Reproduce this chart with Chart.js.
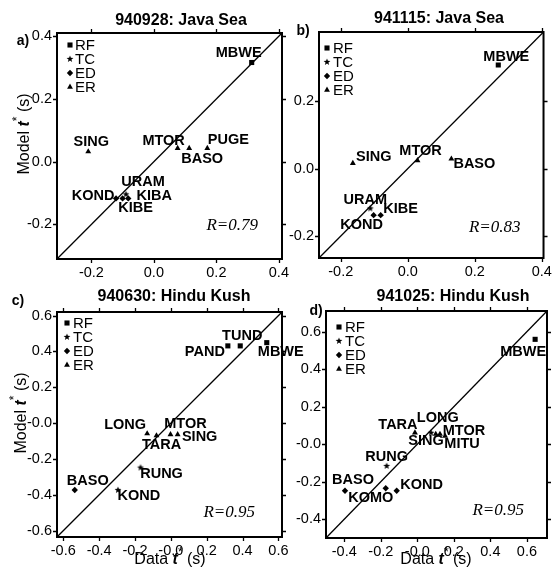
<!DOCTYPE html>
<html>
<head>
<meta charset="utf-8">
<script src="https://cdn.jsdelivr.net/npm/chart.js@4.4.1/dist/chart.umd.min.js"></script>
<style>
  html, body { margin: 0; padding: 0; background: #fff; }
  #wrap { position: relative; width: 557px; height: 570px; }
  #wrap canvas { position: absolute; left: 0; top: 0; }
</style>
</head>
<body>
<div id="wrap">
  <canvas id="chart-a" width="557" height="570"></canvas>
  <canvas id="chart-b" width="557" height="570"></canvas>
  <canvas id="chart-c" width="557" height="570"></canvas>
  <canvas id="chart-d" width="557" height="570"></canvas>
</div>
<script>
/* ── data ─────────────────────────────────────── */
const legendNames = ['RF', 'TC', 'ED', 'ER'];

// a) 940928: Java Sea
const aStations = ['MBWE', 'SING', 'MTOR', 'BASO', 'PUGE', 'KOND', 'KIBE', 'KIBA', 'URAM'];
const aTypes    = ['RF', 'ER', 'ER', 'ER', 'ER', 'ED', 'ED', 'ED', 'TC'];
const aDataT    = [0.313, -0.210, 0.076, 0.113, 0.171, -0.121, -0.100, -0.082, -0.089];
const aModelT   = [0.316, 0.032, 0.043, 0.043, 0.043, -0.117, -0.117, -0.117, -0.104];
const aXTicks   = [-0.2, 0.0, 0.2, 0.4];
const aXText    = ['-0.2', '0.0', '0.2', '0.4'];
const aYTicks   = [-0.2, 0.0, 0.2, 0.4];
const aYText    = ['-0.2', '0.0', '0.2', '0.4'];
const aRange    = [-0.31, 0.41];

// b) 941115: Java Sea
const bStations = ['MBWE', 'SING', 'MTOR', 'BASO', 'URAM', 'KOND', 'KIBE'];
const bTypes    = ['RF', 'ER', 'ER', 'ER', 'TC', 'ED', 'ED'];
const bDataT    = [0.270, -0.164, 0.029, 0.130, -0.112, -0.102, -0.081];
const bModelT   = [0.307, 0.016, 0.024, 0.029, -0.118, -0.138, -0.138];
const bXTicks   = [-0.2, 0.0, 0.2, 0.4];
const bXText    = ['-0.2', '0.0', '0.2', '0.4'];
const bYTicks   = [-0.2, 0.0, 0.2];
const bYText    = ['-0.2', '0.0', '0.2'];
const bRange    = [-0.265, 0.405];

// c) 940630: Hindu Kush
const cStations = ['PAND', 'TUND', 'MBWE', 'LONG', 'TARA', 'MTOR', 'SING', 'RUNG', 'KOND', 'BASO'];
const cTypes    = ['RF', 'RF', 'RF', 'ER', 'ER', 'ER', 'ER', 'TC', 'TC', 'ED'];
const cDataT    = [0.318, 0.387, 0.535, -0.132, -0.080, -0.002, 0.038, -0.169, -0.295, -0.536];
const cModelT   = [0.431, 0.431, 0.449, -0.058, -0.069, -0.063, -0.063, -0.248, -0.373, -0.373];
const cXTicks   = [-0.6, -0.4, -0.2, 0.0, 0.2, 0.4, 0.6];
const cXText    = ['-0.6', '-0.4', '-0.2', '-0.0', '0.2', '0.4', '0.6'];
const cYTicks   = [-0.6, -0.4, -0.2, 0.0, 0.2, 0.4, 0.6];
const cYText    = ['-0.6', '-0.4', '-0.2', '-0.0', '0.2', '0.4', '0.6'];
const cRange    = [-0.635, 0.62];

// d) 941025: Hindu Kush
const dStations = ['MBWE', 'TARA', 'LONG', 'SING', 'MTOR', 'MITU', 'RUNG', 'BASO', 'KOMO', 'KOND'];
const dTypes    = ['RF', 'ER', 'ER', 'TC', 'ER', 'ER', 'TC', 'ED', 'ED', 'ED'];
const dDataT    = [0.645, -0.013, 0.101, 0.075, 0.124, 0.152, -0.168, -0.396, -0.173, -0.113];
const dModelT   = [0.559, 0.061, 0.054, 0.061, 0.054, 0.044, -0.116, -0.248, -0.235, -0.248];
const dXTicks   = [-0.4, -0.2, 0.0, 0.2, 0.4, 0.6];
const dXText    = ['-0.4', '-0.2', '-0.0', '0.2', '0.4', '0.6'];
const dYTicks   = [-0.4, -0.2, 0.0, 0.2, 0.4, 0.6];
const dYText    = ['-0.4', '-0.2', '-0.0', '0.2', '0.4', '0.6'];
const dRange    = [-0.5, 0.71];

/* ── layout (page pixels) ─────────────────────── */
const W = 557, H = 570;
const SANS = "'Liberation Sans', Arial, Helvetica, sans-serif";
const SERIF = "'Liberation Serif', 'Times New Roman', serif";

const panels = [
  {
    canvas: 'chart-a', tag: 'a)', title: '940928: Java Sea', r: 'R=0.79',
    stations: aStations, types: aTypes, xs: aDataT, ys: aModelT, range: aRange,
    xTicks: aXTicks, xText: aXText, yTicks: aYTicks, yText: aYText,
    frame: [57, 33, 282, 259], tagAt: [23, 41], titleAt: [181, 21],
    legendAt: [13, 12, 18], rAt: [24, 33], yTitleAt: [25, 134], xTitleAt: null,
    labelDx: [-13, 3, -14, 13, 21, -23, 13, 26, 17],
    labelDy: [-10, -10, -7, 11, -8, -2, 10, -2, -12],
  },
  {
    canvas: 'chart-b', tag: 'b)', title: '941115: Java Sea', r: 'R=0.83',
    stations: bStations, types: bTypes, xs: bDataT, ys: bModelT, range: bRange,
    xTicks: bXTicks, xText: bXText, yTicks: bYTicks, yText: bYText,
    frame: [319, 32, 547, 258], tagAt: [303, 31], titleAt: [439, 19],
    legendAt: [8, 16, 14], rAt: [23, 30], yTitleAt: null, xTitleAt: null,
    labelDx: [8, 21, 3, 23, -5, -12, 20],
    labelDy: [-8, -6, -10, 5, -8, 10, -6],
  },
  {
    canvas: 'chart-c', tag: 'c)', title: '940630: Hindu Kush', r: 'R=0.95',
    stations: cStations, types: cTypes, xs: cDataT, ys: cModelT, range: cRange,
    xTicks: cXTicks, xText: cXText, yTicks: cYTicks, yText: cYText,
    frame: [57, 312, 282, 537], tagAt: [18, 301], titleAt: [174, 297],
    legendAt: [10, 11, 16], rAt: [27, 24], yTitleAt: [22, 413], xTitleAt: [170, 560],
    labelDx: [-23, 2, 14, -22, 5, 15, 22, 21, 21, 13],
    labelDy: [6, -10, 9, -9, 9, -10, 3, 6, 6, -9],
  },
  {
    canvas: 'chart-d', tag: 'd)', title: '941025: Hindu Kush', r: 'R=0.95',
    stations: dStations, types: dTypes, xs: dDataT, ys: dModelT, range: dRange,
    xTicks: dXTicks, xText: dXText, yTicks: dYTicks, yText: dYText,
    frame: [326, 311, 547, 538], tagAt: [316, 311], titleAt: [453, 297],
    legendAt: [13, 16, 19], rAt: [23, 27], yTitleAt: null, xTitleAt: [436, 560],
    labelDx: [-12, -17, 2, -5, 24, 17, 0, 8, -15, 25],
    labelDy: [13, -8, -16, 8, -3, 8, -9, -11, 10, -6],
  },
];

/* ── markers ──────────────────────────────────── */
function makeStar(r) {
  const c = document.createElement('canvas');
  c.width = c.height = Math.ceil(r * 2) + 2;
  const g = c.getContext('2d');
  const cx = c.width / 2;
  g.beginPath();
  for (let i = 0; i < 10; i++) {
    const rr = i % 2 ? r * 0.42 : r;
    const a = -Math.PI / 2 + i * Math.PI / 5;
    g.lineTo(cx + rr * Math.cos(a), cx + rr * Math.sin(a));
  }
  g.closePath();
  g.fillStyle = '#000';
  g.fill();
  return c;
}
const starImg = makeStar(3.6);
const markerStyle = { RF: 'rect', TC: starImg, ED: 'rectRot', ER: 'triangle' };
const markerRadius = { RF: 3.6, TC: 3.6, ED: 3.2, ER: 3.4 };

/* ── text helpers ─────────────────────────────── */
function drawRich(ctx, parts, cx, cy, rotate) {
  ctx.save();
  ctx.translate(cx, cy);
  if (rotate) ctx.rotate(-Math.PI / 2);
  ctx.textBaseline = 'middle';
  ctx.textAlign = 'left';
  let total = 0;
  parts.forEach(p => { ctx.font = p.font; total += ctx.measureText(p.text).width + (p.dx || 0); });
  let x = -total / 2;
  parts.forEach(p => {
    ctx.font = p.font;
    x += p.dx || 0;
    ctx.fillText(p.text, x, p.dy || 0);
    x += ctx.measureText(p.text).width;
  });
  ctx.restore();
}

function axisTitle(word) {
  return [
    { text: word + ' ', font: `16px ${SANS}` },
    { text: 't', font: `italic bold 16px ${SANS}` },
    { text: '*', font: `12px ${SANS}`, dy: -7, dx: 0 },
    { text: ' (s)', font: `16px ${SANS}` },
  ];
}

/* ── decoration plugin ────────────────────────── */
const decor = {
  id: 'decor',
  afterDatasetsDraw(chart) {
    const p = chart.options.plugins.decor.panel;
    const ctx = chart.ctx;
    const meta = chart.getDatasetMeta(0);
    ctx.save();
    ctx.fillStyle = '#000';
    ctx.font = `bold 14.5px ${SANS}`;
    ctx.textAlign = 'center';
    ctx.textBaseline = 'middle';
    meta.data.forEach((pt, i) => {
      ctx.fillText(p.stations[i], pt.x + p.labelDx[i], pt.y + p.labelDy[i]);
    });
    ctx.restore();
  },
  afterDraw(chart) {
    const p = chart.options.plugins.decor.panel;
    const ctx = chart.ctx;
    const { left, top, right, bottom } = chart.chartArea;
    const xs = chart.scales.x, ys = chart.scales.y;
    ctx.save();
    ctx.strokeStyle = '#000';
    ctx.fillStyle = '#000';

    // ticks on all four sides, pointing out
    ctx.lineWidth = 1.3;
    ctx.beginPath();
    p.xTicks.forEach(v => {
      const px = Math.round(xs.getPixelForValue(v)) + 0.5;
      ctx.moveTo(px, bottom); ctx.lineTo(px, bottom + 4);
      ctx.moveTo(px, top); ctx.lineTo(px, top - 4);
    });
    p.yTicks.forEach(v => {
      const py = Math.round(ys.getPixelForValue(v)) + 0.5;
      ctx.moveTo(left, py); ctx.lineTo(left - 4, py);
      ctx.moveTo(right, py); ctx.lineTo(right + 4, py);
    });
    ctx.stroke();

    // frame
    ctx.lineWidth = 2;
    ctx.strokeRect(left, top, right - left, bottom - top);

    // legend
    const [lx, ly, tx] = p.legendAt;
    ctx.font = `15px ${SANS}`;
    ctx.textAlign = 'left';
    ctx.textBaseline = 'middle';
    legendNames.forEach((name, i) => {
      const y = top + ly + i * 14;
      Chart.helpers.drawPoint(ctx, {
        pointStyle: markerStyle[name], radius: markerRadius[name], rotation: 0, borderWidth: 0,
      }, left + lx, y);
      ctx.fillText(name, left + tx, y + 1);
    });

    // R value
    ctx.font = `italic 17px ${SERIF}`;
    ctx.textAlign = 'right';
    ctx.fillText(p.r, right - p.rAt[0], bottom - p.rAt[1]);

    // title and panel tag
    ctx.textAlign = 'center';
    ctx.font = `bold 16px ${SANS}`;
    ctx.fillText(p.title, p.titleAt[0], p.titleAt[1]);
    ctx.font = `bold 14px ${SANS}`;
    ctx.fillText(p.tag, p.tagAt[0], p.tagAt[1]);

    if (p.yTitleAt) drawRich(ctx, axisTitle('Model'), p.yTitleAt[0], p.yTitleAt[1], true);
    if (p.xTitleAt) drawRich(ctx, axisTitle('Data'), p.xTitleAt[0], p.xTitleAt[1], false);
    ctx.restore();
  }
};

/* ── charts ───────────────────────────────────── */
function buildChart(p) {
  const [fl, ft, fr, fb] = p.frame;
  const yW = 40, xH = 26;
  const tickFont = { family: SANS, size: 14.5 };
  const axis = (isX) => {
    const vals = isX ? p.xTicks : p.yTicks;
    const text = isX ? p.xText : p.yText;
    return {
      type: 'linear',
      min: p.range[0],
      max: p.range[1],
      grid: { display: false, drawTicks: false, tickLength: 0 },
      border: { display: false },
      afterFit: s => { if (isX) s.height = xH; else s.width = yW; },
      afterBuildTicks: s => { s.ticks = vals.map(v => ({ value: v })); },
      ticks: {
        color: '#000',
        font: tickFont,
        padding: isX ? 5 : 5,
        autoSkip: false,
        maxRotation: 0,
        callback: (v, i) => text[i],
      },
    };
  };

  return new Chart(document.getElementById(p.canvas), {
    type: 'scatter',
    data: {
      datasets: [
        {
          data: p.xs.map((v, i) => ({ x: v, y: p.ys[i] })),
          pointStyle: p.types.map(t => markerStyle[t]),
          pointRadius: p.types.map(t => markerRadius[t]),
          backgroundColor: '#000',
          borderColor: '#000',
          borderWidth: 0,
        },
        {
          type: 'line',
          data: [{ x: p.range[0], y: p.range[0] }, { x: p.range[1], y: p.range[1] }],
          borderColor: '#000',
          borderWidth: 1.3,
          pointRadius: 0,
          fill: false,
        },
      ],
    },
    options: {
      responsive: false,
      animation: false,
      events: [],
      layout: {
        autoPadding: false,
        padding: { left: fl - yW, top: ft, right: W - fr, bottom: H - fb - xH },
      },
      plugins: {
        legend: { display: false },
        tooltip: { enabled: false },
        decor: { panel: p },
      },
      scales: { x: axis(true), y: axis(false) },
    },
    plugins: [decor],
  });
}

panels.forEach(buildChart);
</script>
</body>
</html>
